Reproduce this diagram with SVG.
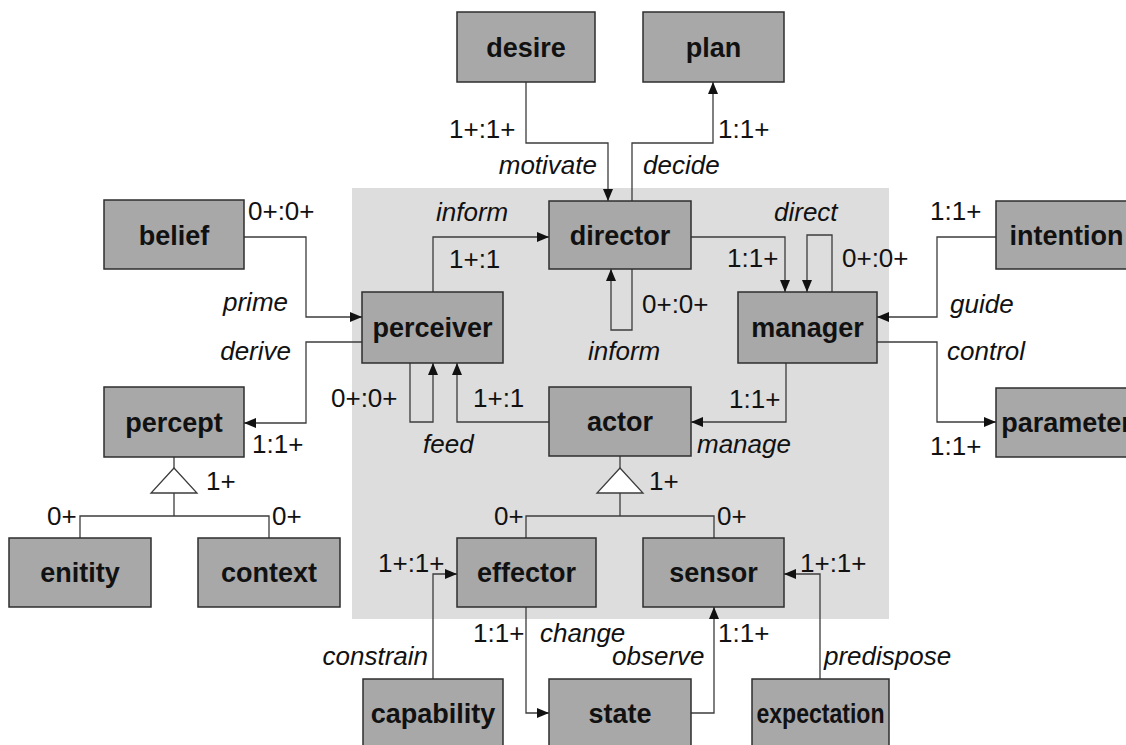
<svg xmlns="http://www.w3.org/2000/svg" width="1126" height="745" viewBox="0 0 1126 745">
  <style>
    .node rect { fill: #a8a8a8; stroke: #2e2e2e; stroke-width: 1.5; }
    .node text { font-family: "Liberation Sans", Arial, sans-serif; font-weight: bold; font-size: 27px; fill: #111; text-anchor: middle; }
    .wire { fill: none; stroke: #3c3c3c; stroke-width: 1.3; }
    .arrow { marker-end: url(#head); }
    .gen { fill: #ffffff; stroke: #3c3c3c; stroke-width: 1.3; }
    .lbl { font-family: "Liberation Sans", Arial, sans-serif; font-size: 26px; fill: #111; }
    .rel { font-style: italic; }
    .end { text-anchor: end; }
  </style>
  <defs>
    <marker id="head" viewBox="0 0 12 10" refX="12" refY="5" markerWidth="12" markerHeight="10" markerUnits="userSpaceOnUse" orient="auto">
      <path d="M0,0 L12,5 L0,10 Z" fill="#111"/>
    </marker>
  </defs>

  <rect width="1126" height="745" fill="#ffffff"/>
  <!-- agent boundary -->
  <rect id="agent-panel" x="352" y="188" width="537" height="431" fill="#dddddd"/>

  <!-- connectors -->
  <g id="connectors">
    <path class="wire arrow" d="M526,82 V143 H608 V201"/>
    <path class="wire arrow" d="M632,201 V143 H713 V82"/>
    <path class="wire arrow" d="M433,292 V237 H549"/>
    <path class="wire arrow" d="M632,269 V330 H611 V269"/>
    <path class="wire arrow" d="M691,237 H785 V292"/>
    <path class="wire arrow" d="M832,292 V235 H807 V292"/>
    <path class="wire arrow" d="M244,237 H306 V317 H362"/>
    <path class="wire arrow" d="M362,342 H306 V423 H244"/>
    <path class="wire arrow" d="M410,363 V422 H433 V363"/>
    <path class="wire arrow" d="M549,422 H457 V363"/>
    <path class="wire arrow" d="M786,363 V422 H691"/>
    <path class="wire arrow" d="M996,237 H937 V317 H877"/>
    <path class="wire arrow" d="M877,342 H937 V422 H996"/>
    <path class="wire arrow" d="M433,679 V574 H457"/>
    <path class="wire arrow" d="M526,607 V713 H549"/>
    <path class="wire arrow" d="M691,713 H714 V607"/>
    <path class="wire arrow" d="M820,679 V574 H784"/>
    <!-- generalisation: percept -->
    <path class="wire" d="M174,457 V468 M174,493 V516 M80,538 V516 H269 V538"/>
    <path class="gen" d="M174,468 L151,493 L197,493 Z"/>
    <!-- generalisation: actor -->
    <path class="wire" d="M620,456 V468 M620,493 V516 M526,538 V516 H714 V538"/>
    <path class="gen" d="M620,468 L597,493 L643,493 Z"/>
  </g>

  <!-- connector labels -->
  <g id="labels">
    <text class="lbl" x="449" y="138">1+:1+</text>
    <text class="lbl" x="718" y="138">1:1+</text>
    <text class="lbl rel end" x="597" y="174">motivate</text>
    <text class="lbl rel" x="643" y="174">decide</text>
    <text class="lbl rel" x="436" y="221">inform</text>
    <text class="lbl" x="449" y="268">1+:1</text>
    <text class="lbl" x="642" y="313">0+:0+</text>
    <text class="lbl rel" x="588" y="360">inform</text>
    <text class="lbl" x="248" y="220">0+:0+</text>
    <text class="lbl rel" x="223" y="311">prime</text>
    <text class="lbl rel end" x="291" y="360">derive</text>
    <text class="lbl" x="252" y="453">1:1+</text>
    <text class="lbl" x="331" y="407">0+:0+</text>
    <text class="lbl" x="473" y="407">1+:1</text>
    <text class="lbl rel" x="423" y="453">feed</text>
    <text class="lbl rel" x="774" y="221">direct</text>
    <text class="lbl" x="727" y="267">1:1+</text>
    <text class="lbl" x="842" y="267">0+:0+</text>
    <text class="lbl" x="930" y="220">1:1+</text>
    <text class="lbl rel" x="950" y="313">guide</text>
    <text class="lbl rel" x="947" y="360">control</text>
    <text class="lbl" x="930" y="455">1:1+</text>
    <text class="lbl" x="729" y="408">1:1+</text>
    <text class="lbl rel" x="697" y="453">manage</text>
    <text class="lbl" x="206" y="490">1+</text>
    <text class="lbl" x="47" y="525">0+</text>
    <text class="lbl" x="272" y="525">0+</text>
    <text class="lbl" x="649" y="490">1+</text>
    <text class="lbl" x="494" y="525">0+</text>
    <text class="lbl" x="717" y="525">0+</text>
    <text class="lbl" x="378" y="572">1+:1+</text>
    <text class="lbl" x="800" y="572">1+:1+</text>
    <text class="lbl" x="473" y="642">1:1+</text>
    <text class="lbl rel" x="540" y="642">change</text>
    <text class="lbl" x="718" y="642">1:1+</text>
    <text class="lbl rel" x="612" y="665">observe</text>
    <text class="lbl rel end" x="428" y="665">constrain</text>
    <text class="lbl rel" x="824" y="665">predispose</text>
  </g>

  <!-- nodes -->
  <g id="desire" class="node"><rect x="457" y="12" width="138" height="70"/><text x="526" y="57">desire</text></g>
  <g id="plan" class="node"><rect x="643" y="12" width="141" height="70"/><text x="713.5" y="57">plan</text></g>
  <g id="belief" class="node"><rect x="104" y="200" width="140" height="69"/><text x="174" y="245">belief</text></g>
  <g id="director" class="node"><rect x="549" y="201" width="142" height="68"/><text x="620" y="245">director</text></g>
  <g id="intention" class="node"><rect x="996" y="201" width="141" height="68"/><text x="1066.5" y="245">intention</text></g>
  <g id="perceiver" class="node"><rect x="362" y="292" width="141" height="71"/><text x="432.5" y="337">perceiver</text></g>
  <g id="manager" class="node"><rect x="738" y="292" width="139" height="71"/><text x="807.5" y="337">manager</text></g>
  <g id="percept" class="node"><rect x="104" y="387" width="140" height="70"/><text x="174" y="432">percept</text></g>
  <g id="actor" class="node"><rect x="549" y="387" width="142" height="69"/><text x="620" y="431">actor</text></g>
  <g id="parameter" class="node"><rect x="996" y="388" width="141" height="69"/><text x="1066.5" y="432">parameter</text></g>
  <g id="enitity" class="node"><rect x="9" y="538" width="142" height="69"/><text x="80" y="582">enitity</text></g>
  <g id="context" class="node"><rect x="198" y="538" width="142" height="69"/><text x="269" y="582">context</text></g>
  <g id="effector" class="node"><rect x="457" y="538" width="139" height="69"/><text x="526.5" y="582">effector</text></g>
  <g id="sensor" class="node"><rect x="643" y="538" width="141" height="69"/><text x="713.5" y="582">sensor</text></g>
  <g id="capability" class="node"><rect x="363" y="679" width="140" height="69"/><text x="433" y="723">capability</text></g>
  <g id="state" class="node"><rect x="549" y="679" width="142" height="69"/><text x="620" y="723">state</text></g>
  <g id="expectation" class="node"><rect x="752" y="679" width="137" height="69"/><text x="820.5" y="723" textLength="128" lengthAdjust="spacingAndGlyphs">expectation</text></g>
</svg>
